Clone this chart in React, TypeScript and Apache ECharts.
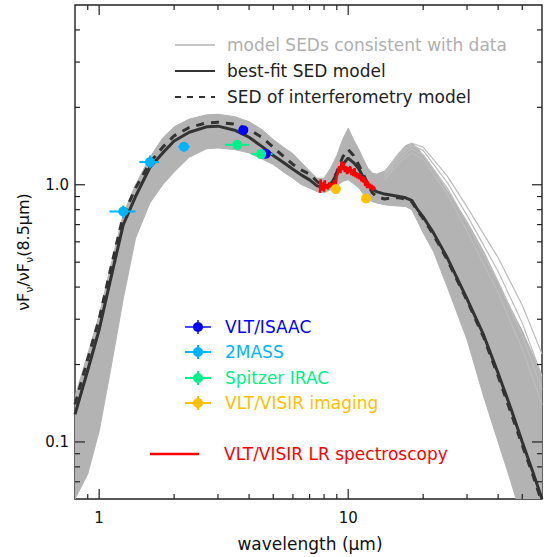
import React, { useEffect, useRef } from "react";
import * as echarts from "echarts";

// ---- model SEDs (wavelength in micron, nuFnu normalised at 8.5 micron)
const modelWl = [0.8, 0.9, 1.0, 1.1, 1.25, 1.4, 1.6, 1.8, 2.0, 2.3, 2.7, 3.0, 3.5, 4.0, 4.5, 5.0, 5.5, 6.0, 6.5, 7.0, 7.5, 8.0, 8.5, 9.0, 9.5, 10.0, 10.5, 11.0, 11.5, 12.0, 12.5, 13.0, 14.0, 15.0, 16.0, 17.0, 18.0, 19.0, 20.0, 22.0, 25.0, 30.0, 35.0, 40.0, 45.0, 50.0, 55.0, 60.0];
const bestFit = [0.128, 0.19, 0.273, 0.41, 0.70, 0.90, 1.17, 1.33, 1.48, 1.60, 1.68, 1.69, 1.63, 1.53, 1.41, 1.30, 1.22, 1.15, 1.09, 1.045, 0.99, 0.975, 1.0, 1.10, 1.20, 1.27, 1.22, 1.16, 1.07, 1.0, 0.96, 0.94, 0.92, 0.91, 0.90, 0.89, 0.87, 0.80, 0.75, 0.65, 0.52, 0.36, 0.26, 0.185, 0.135, 0.10, 0.077, 0.06];
const interfModel = [0.14, 0.21, 0.30, 0.45, 0.76, 0.97, 1.22, 1.40, 1.55, 1.67, 1.74, 1.75, 1.72, 1.64, 1.53, 1.40, 1.29, 1.20, 1.14, 1.10, 1.03, 0.99, 1.0, 1.12, 1.28, 1.37, 1.30, 1.20, 1.10, 1.0, 0.93, 0.90, 0.88, 0.89, 0.89, 0.88, 0.86, 0.79, 0.74, 0.64, 0.51, 0.355, 0.255, 0.18, 0.13, 0.097, 0.075, 0.058];
const envUpper = [0.15, 0.22, 0.31, 0.46, 0.77, 1.0, 1.28, 1.52, 1.68, 1.80, 1.87, 1.88, 1.84, 1.76, 1.64, 1.50, 1.40, 1.32, 1.22, 1.13, 1.06, 1.06, 1.16, 1.30, 1.50, 1.66, 1.50, 1.38, 1.26, 1.16, 1.11, 1.10, 1.13, 1.22, 1.33, 1.42, 1.45, 1.39, 1.30, 1.14, 0.95, 0.72, 0.55, 0.42, 0.33, 0.27, 0.22, 0.18];
const envLower = [0.06, 0.075, 0.11, 0.18, 0.36, 0.62, 0.85, 1.0, 1.12, 1.28, 1.38, 1.39, 1.37, 1.33, 1.26, 1.20, 1.12, 1.06, 1.00, 0.97, 0.94, 0.93, 0.956, 0.99, 1.03, 1.046, 1.01, 0.975, 0.92, 0.88, 0.86, 0.85, 0.836, 0.83, 0.826, 0.823, 0.80, 0.72, 0.65, 0.55, 0.40, 0.25, 0.15, 0.10, 0.07, 0.05, 0.04, 0.03];

// individual model SEDs spreading out at long wavelengths
const outlierWl = [14.0, 16.0, 18.0, 20.0, 25.0, 30.0, 40.0, 50.0, 60.0];
const outlierA = [1.12, 1.33, 1.45, 1.40, 1.08, 0.82, 0.52, 0.34, 0.22];
const outlierB = [1.10, 1.30, 1.42, 1.36, 1.02, 0.76, 0.46, 0.29, 0.18];
const outlierC = [1.08, 1.26, 1.38, 1.31, 0.97, 0.71, 0.42, 0.26, 0.16];
const outlierD = [1.05, 1.22, 1.33, 1.26, 0.92, 0.66, 0.38, 0.23, 0.14];

// ---- photometry
const isaacWl = [3.79, 4.67];
const isaacVal = [1.63, 1.32];
const twoMassWl = [1.25, 1.60, 2.19];
const twoMassVal = [0.787, 1.225, 1.405];
const twoMassWlLo = [1.10, 1.45, 2.08];
const twoMassWlHi = [1.40, 1.74, 2.31];
const twoMassValLo = [0.74, 1.16, 1.34];
const twoMassValHi = [0.83, 1.30, 1.46];
const iracWl = [3.59, 4.47];
const iracVal = [1.43, 1.316];
const iracWlLo = [3.20, 4.09];
const iracWlHi = [4.00, 4.97];
const iracValLo = [1.40, 1.29];
const iracValHi = [1.46, 1.34];
const visirWl = [8.92, 11.8];
const visirVal = [0.962, 0.885];

// ---- VISIR low-resolution spectrum
const specWl = [7.7, 7.75, 7.8, 7.9, 8.0, 8.05, 8.1, 8.2, 8.3, 8.4, 8.5, 8.6, 8.7, 8.8, 8.9, 9.0, 9.1, 9.2, 9.3, 9.4, 9.5, 9.6, 9.7, 9.8, 9.9, 10.0, 10.1, 10.2, 10.3, 10.4, 10.5, 10.6, 10.7, 10.8, 10.9, 11.0, 11.1, 11.2, 11.3, 11.4, 11.5, 11.6, 11.7, 11.8, 11.9, 12.0, 12.1, 12.2, 12.3, 12.4, 12.5, 12.6, 12.7, 12.8];
const specVal = [0.93, 1.05, 0.95, 1.02, 0.94, 1.04, 0.97, 1.00, 0.96, 1.02, 0.98, 1.01, 0.99, 1.04, 1.00, 1.08, 1.12, 1.18, 1.11, 1.23, 1.14, 1.22, 1.12, 1.18, 1.10, 1.17, 1.11, 1.18, 1.09, 1.15, 1.08, 1.16, 1.07, 1.12, 1.06, 1.11, 1.05, 1.10, 1.03, 1.08, 1.02, 1.07, 0.99, 1.05, 0.97, 1.03, 0.97, 1.01, 0.96, 1.00, 0.95, 0.99, 0.96, 0.98];

// ---- axes
const xMin = 0.8, xMax = 60, yMin = 0.06, yMax = 5;
const xTickMajor = [1, 10];
const xTickLabels = ["1", "10"];
const xTickMinor = [0.9, 2, 3, 4, 5, 6, 7, 8, 9, 20, 30, 40, 50];
const yTickMajor = [0.1, 1];
const yTickLabels = ["0.1", "1.0"];
const yTickMinor = [0.07, 0.08, 0.09, 0.2, 0.3, 0.4, 0.5, 0.6, 0.7, 0.8, 0.9, 2, 3, 4];

const FONT = "DejaVu Sans";
const C_GRAY = "#b3b3b3";
const C_DARK = "#333333";
const C_ISAAC = "#0000ff";
const C_2MASS = "#00b4ff";
const C_IRAC = "#00f08c";
const C_VISIR = "#ffc000";
const C_RED = "#ff0000";

const pairs = (xs: number[], ys: number[]) => xs.map((x, i) => [x, ys[i]]);
const near = (a: number, b: number) => Math.abs(Math.log10(a) - Math.log10(b)) < 1e-4;

function errorSeries(name: string, color: string, wl: number[], val: number[], wlLo: number[], wlHi: number[], vLo: number[], vHi: number[]) {
  return {
    type: "custom",
    name,
    z: 4,
    clip: true,
    encode: { x: 0, y: 1 },
    data: wl.map((w, i) => [w, val[i], wlLo[i], wlHi[i], vLo[i], vHi[i]]),
    renderItem: (params: any, api: any) => {
      const w = api.value(0), v = api.value(1);
      const a = api.coord([api.value(2), v]);
      const b = api.coord([api.value(3), v]);
      const c = api.coord([w, api.value(4)]);
      const d = api.coord([w, api.value(5)]);
      const st = { stroke: color, lineWidth: 2 };
      return {
        type: "group",
        children: [
          { type: "line", shape: { x1: a[0], y1: a[1], x2: b[0], y2: b[1] }, style: st },
          { type: "line", shape: { x1: c[0], y1: c[1], x2: d[0], y2: d[1] }, style: st },
        ],
      };
    },
  };
}

function scatterSeries(color: string, wl: number[], val: number[], z = 5) {
  return {
    type: "scatter",
    symbol: "circle",
    symbolSize: 10,
    z,
    itemStyle: { color, opacity: 1 },
    data: pairs(wl, val),
  };
}

export default function App() {
  const ref = useRef<HTMLDivElement>(null);
  useEffect(() => {
    if (!ref.current) return;
    const chart = echarts.init(ref.current, null, { renderer: "svg" });

    const tickData = [
      ...xTickMajor.map((v) => [v, 1, 0, 1]),
      ...xTickMinor.map((v) => [v, 1, 0, 0]),
      ...yTickMajor.map((v) => [1, v, 1, 1]),
      ...yTickMinor.map((v) => [1, v, 1, 0]),
    ];

    const legendTop = 45, legendGap = 26;
    const lowRows = [
      { label: "VLT/ISAAC", color: C_ISAAC, lc: "#4a4aff", y: 327 },
      { label: "2MASS", color: C_2MASS, lc: C_2MASS, y: 352 },
      { label: "Spitzer IRAC", color: C_IRAC, lc: C_IRAC, y: 378 },
      { label: "VLT/VISIR imaging", color: C_VISIR, lc: C_VISIR, y: 403 },
    ];
    const textStyle = (color: string) => ({ fontFamily: FONT, fontSize: 17, fill: color, verticalAlign: "middle", align: "left" });

    const graphic: any[] = [
      // top legend
      { type: "line", shape: { x1: 175, y1: legendTop, x2: 215, y2: legendTop }, style: { stroke: C_GRAY, lineWidth: 1.5 } },
      { type: "text", x: 227, y: legendTop, style: { text: "model SEDs consistent with data", ...textStyle("#b0b0b0") } },
      { type: "line", shape: { x1: 175, y1: legendTop + legendGap, x2: 215, y2: legendTop + legendGap }, style: { stroke: C_DARK, lineWidth: 2 } },
      { type: "text", x: 227, y: legendTop + legendGap, style: { text: "best-fit SED model", ...textStyle("#222") } },
      { type: "line", shape: { x1: 175, y1: legendTop + 2 * legendGap, x2: 215, y2: legendTop + 2 * legendGap }, style: { stroke: C_DARK, lineWidth: 2, lineDash: [6, 6] } },
      { type: "text", x: 227, y: legendTop + 2 * legendGap, style: { text: "SED of interferometry model", ...textStyle("#222") } },
      // lower legend
      ...lowRows.flatMap((r) => [
        { type: "line", shape: { x1: 185, y1: r.y, x2: 211, y2: r.y }, style: { stroke: r.lc, lineWidth: 2 } },
        { type: "line", shape: { x1: 198, y1: r.y - 7, x2: 198, y2: r.y + 7 }, style: { stroke: r.lc, lineWidth: 2 } },
        { type: "circle", shape: { cx: 198, cy: r.y, r: 5 }, style: { fill: r.color } },
        { type: "text", x: 225, y: r.y, style: { text: r.label, ...textStyle(r.color) } },
      ]),
      { type: "line", shape: { x1: 150, y1: 454, x2: 199, y2: 454 }, style: { stroke: C_RED, lineWidth: 2.5 } },
      { type: "text", x: 224, y: 454, style: { text: "VLT/VISIR LR spectroscopy", ...textStyle(C_RED) } },
      // axis titles
      { type: "text", x: 310, y: 544, style: { text: "wavelength (μm)", fontFamily: FONT, fontSize: 17, fill: "#111", align: "center", verticalAlign: "middle" } },
      {
        type: "text", x: 23, y: 252, rotation: Math.PI / 2,
        style: {
          text: "{n|νF}{s|ν}{n|/νF}{s|ν}{n|(8.5μm)}",
          align: "center", verticalAlign: "middle",
          rich: {
            n: { fontFamily: FONT, fontSize: 16, fill: "#111", lineHeight: 24, verticalAlign: "middle" },
            s: { fontFamily: FONT, fontSize: 11, fill: "#111", lineHeight: 24, verticalAlign: "bottom" },
          },
        },
      },
    ];

    const option: any = {
      animation: false,
      backgroundColor: "#ffffff",
      grid: { left: 75, top: 5, width: 468, height: 494, show: true, borderColor: "#222", borderWidth: 1.4, backgroundColor: "transparent" },
      xAxis: {
        type: "log", logBase: 10, min: xMin, max: xMax,
        axisLine: { show: false }, axisTick: { show: false }, splitLine: { show: false }, minorTick: { show: false },
        axisLabel: {
          margin: 11, fontFamily: FONT, fontSize: 15, color: "#111",
          formatter: (v: number) => { const i = xTickMajor.findIndex((t) => near(v, t)); return i >= 0 ? xTickLabels[i] : ""; },
        },
      },
      yAxis: {
        type: "log", logBase: 10, min: yMin, max: yMax,
        axisLine: { show: false }, axisTick: { show: false }, splitLine: { show: false }, minorTick: { show: false },
        axisLabel: {
          margin: 6, fontFamily: FONT, fontSize: 15, color: "#111",
          formatter: (v: number) => { const i = yTickMajor.findIndex((t) => near(v, t)); return i >= 0 ? yTickLabels[i] : ""; },
        },
      },
      graphic,
      series: [
        {
          type: "custom", name: "band", z: 1, clip: true, silent: true,
          encode: { x: 0, y: 1 },
          data: [[1, 1]],
          renderItem: (params: any, api: any) => {
            const up = modelWl.map((w, i) => api.coord([w, envUpper[i]]));
            const lo = modelWl.map((w, i) => api.coord([w, envLower[i]])).reverse();
            return { type: "polygon", shape: { points: up.concat(lo) }, style: { fill: C_GRAY, stroke: C_GRAY, lineWidth: 1 } };
          },
        },
        ...[outlierA, outlierB, outlierC, outlierD].map((o) => ({
          type: "line", z: 2, showSymbol: false, symbol: "none", silent: true,
          lineStyle: { color: "#bdbdbd", width: 1.2 },
          data: pairs(outlierWl, o),
        })),
        {
          type: "line", z: 3, showSymbol: false, symbol: "none",
          lineStyle: { color: C_DARK, width: 3 },
          data: pairs(modelWl, bestFit),
        },
        {
          type: "line", z: 3, showSymbol: false, symbol: "none",
          lineStyle: { color: C_DARK, width: 3, type: [8, 7] },
          data: pairs(modelWl, interfModel),
        },
        {
          type: "line", z: 4, showSymbol: false, symbol: "none",
          lineStyle: { color: C_RED, width: 2.5 },
          data: pairs(specWl, specVal),
        },
        errorSeries("2MASS err", C_2MASS, twoMassWl, twoMassVal, twoMassWlLo, twoMassWlHi, twoMassValLo, twoMassValHi),
        errorSeries("IRAC err", C_IRAC, iracWl, iracVal, iracWlLo, iracWlHi, iracValLo, iracValHi),
        scatterSeries(C_2MASS, twoMassWl, twoMassVal),
        scatterSeries(C_ISAAC, isaacWl, isaacVal),
        scatterSeries(C_IRAC, iracWl, iracVal, 6),
        scatterSeries(C_VISIR, visirWl, visirVal, 6),
        {
          type: "custom", name: "ticks", z: 8, silent: true,
          encode: { x: 0, y: 1 },
          data: tickData,
          renderItem: (params: any, api: any) => {
            const cs = params.coordSys;
            const isY = api.value(2) === 1;
            const len = api.value(3) === 1 ? 10 : 5;
            const st = { stroke: "#222", lineWidth: 1.2 };
            if (!isY) {
              const x = api.coord([api.value(0), 1])[0];
              return {
                type: "group",
                children: [
                  { type: "line", shape: { x1: x, y1: cs.y + cs.height, x2: x, y2: cs.y + cs.height - len }, style: st },
                  { type: "line", shape: { x1: x, y1: cs.y, x2: x, y2: cs.y + len }, style: st },
                ],
              };
            }
            const y = api.coord([1, api.value(1)])[1];
            return {
              type: "group",
              children: [
                { type: "line", shape: { x1: cs.x, y1: y, x2: cs.x + len, y2: y }, style: st },
                { type: "line", shape: { x1: cs.x + cs.width, y1: y, x2: cs.x + cs.width - len, y2: y }, style: st },
              ],
            };
          },
        },
      ],
    };
    chart.setOption(option);
    return () => chart.dispose();
  }, []);
  return <div ref={ref} style={{ position: "fixed", left: 0, top: 0, width: 545, height: 557, background: "#fff" }} />;
}
